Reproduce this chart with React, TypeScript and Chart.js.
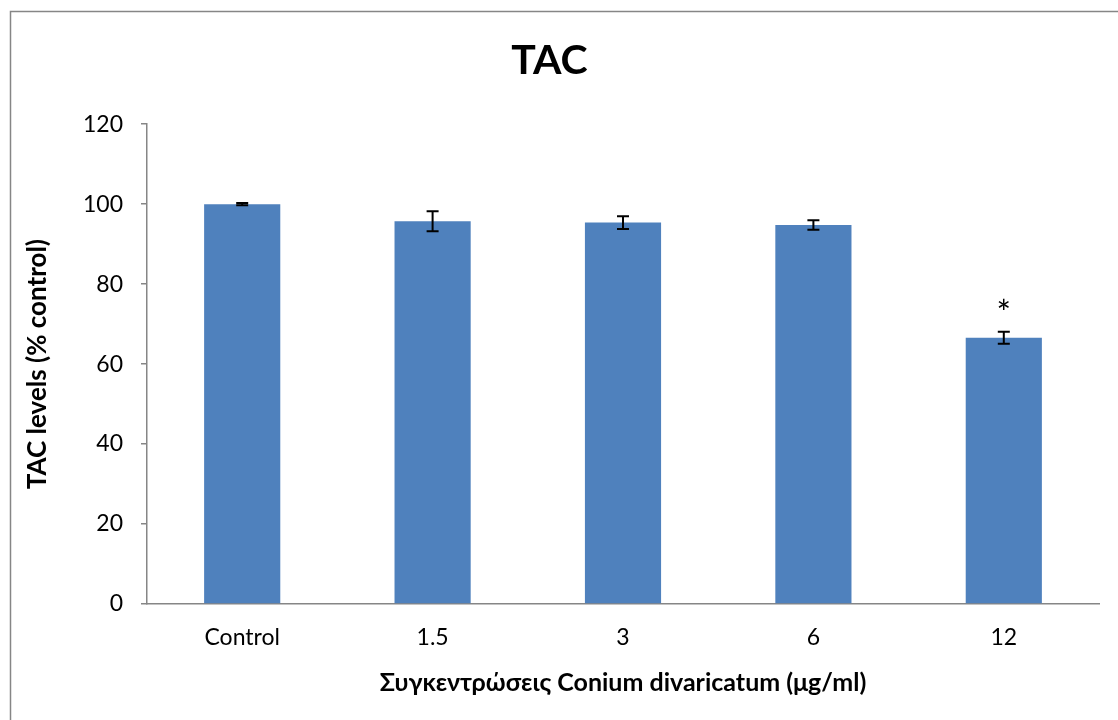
import React, { useEffect, useRef } from "react";
import { Chart, registerables } from "chart.js";

Chart.register(...registerables);

const categories = ["Control", "1.5", "3", "6", "12"];
const tacValues = [100, 95.7, 95.4, 94.8, 66.6];
const tacErrors = [0.3, 2.5, 1.6, 1.2, 1.5];
const significance = ["", "", "", "", "*"];
const yTicks = [0, 20, 40, 60, 80, 100, 120];

const FONT = "Lato, 'Open Sans', sans-serif";

const errorBarPlugin = {
  id: "errorBars",
  afterDatasetsDraw(chart: any) {
    const ctx = chart.ctx;
    const x = chart.scales.x;
    const y = chart.scales.y;
    ctx.save();
    ctx.strokeStyle = "#000";
    ctx.lineWidth = 2;
    tacValues.forEach((v, i) => {
      const cx = x.getPixelForValue(i);
      const top = y.getPixelForValue(v + tacErrors[i]);
      const bot = y.getPixelForValue(v - tacErrors[i]);
      ctx.beginPath();
      ctx.moveTo(cx, top);
      ctx.lineTo(cx, bot);
      ctx.moveTo(cx - 6, top);
      ctx.lineTo(cx + 6, top);
      ctx.moveTo(cx - 6, bot);
      ctx.lineTo(cx + 6, bot);
      ctx.stroke();
      if (significance[i]) {
        ctx.fillStyle = "#000";
        ctx.font = `34px ${FONT}`;
        ctx.textAlign = "center";
        ctx.textBaseline = "alphabetic";
        ctx.fillText(significance[i], cx, top - 7);
      }
    });
    ctx.restore();
  },
};

const framePlugin = {
  id: "frame",
  beforeDraw(chart: any) {
    const ctx = chart.ctx;
    ctx.save();
    ctx.fillStyle = "#fff";
    ctx.fillRect(0, 0, chart.width, chart.height);
    ctx.strokeStyle = "#868686";
    ctx.lineWidth = 1.5;
    ctx.beginPath();
    ctx.moveTo(10.5, chart.height + 5);
    ctx.lineTo(10.5, 11.5);
    ctx.lineTo(chart.width + 5, 11.5);
    ctx.stroke();
    ctx.restore();
  },
};

export default function App() {
  const ref = useRef<HTMLCanvasElement>(null);
  useEffect(() => {
    const chart = new Chart(ref.current as HTMLCanvasElement, {
      type: "bar",
      data: {
        labels: categories,
        datasets: [
          {
            data: tacValues,
            backgroundColor: "#4F81BD",
            barPercentage: 0.4,
            categoryPercentage: 1,
          },
        ],
      },
      plugins: [framePlugin, errorBarPlugin],
      options: {
        animation: false,
        responsive: false,
        devicePixelRatio: 1,
        layout: { padding: { left: 0, right: 19, top: 0, bottom: 0 } },
        plugins: {
          legend: { display: false },
          tooltip: { enabled: false },
          title: {
            display: true,
            text: "TAC",
            color: "#000",
            font: { family: FONT, size: 41, weight: "bold", lineHeight: 1.2 },
            padding: { top: 36, bottom: 39 },
          },
        },
        scales: {
          x: {
            afterFit(scale: any) {
              scale.height = 116;
            },
            grid: { display: true, drawOnChartArea: false, drawTicks: false, tickLength: 0, color: "#868686" },
            border: { display: true, color: "#868686", width: 1.5 },
            ticks: { color: "#000", font: { family: FONT, size: 23 }, padding: 20 },
            title: {
              display: true,
              text: "Συγκεντρώσεις Conium divaricatum (μg/ml)",
              color: "#000",
              font: { family: FONT, size: 25, weight: "bold", lineHeight: 1.2 },
              padding: { top: 0, bottom: 22 },
            },
          },
          y: {
            min: 0,
            max: 120,
            afterFit(scale: any) {
              scale.width = 147;
            },
            afterBuildTicks(scale: any) {
              scale.ticks = yTicks.map((v) => ({ value: v }));
            },
            grid: { display: true, drawOnChartArea: false, drawTicks: true, tickLength: 6, color: "#868686", lineWidth: 1.5 },
            border: { display: true, color: "#868686", width: 1.5 },
            ticks: { color: "#000", font: { family: FONT, size: 23 }, padding: 18 },
            title: {
              display: true,
              text: "TAC levels (% control)",
              color: "#000",
              font: { family: FONT, size: 26, weight: "bold", lineHeight: 1.2 },
              padding: { top: 22, bottom: 0 },
            },
          },
        },
      },
    });
    return () => chart.destroy();
  }, []);
  return (
    <div style={{ position: "absolute", left: 0, top: 0, width: 1118, height: 720, overflow: "hidden" }}>
      <canvas ref={ref} width={1118} height={720} style={{ display: "block" }} />
    </div>
  );
}
